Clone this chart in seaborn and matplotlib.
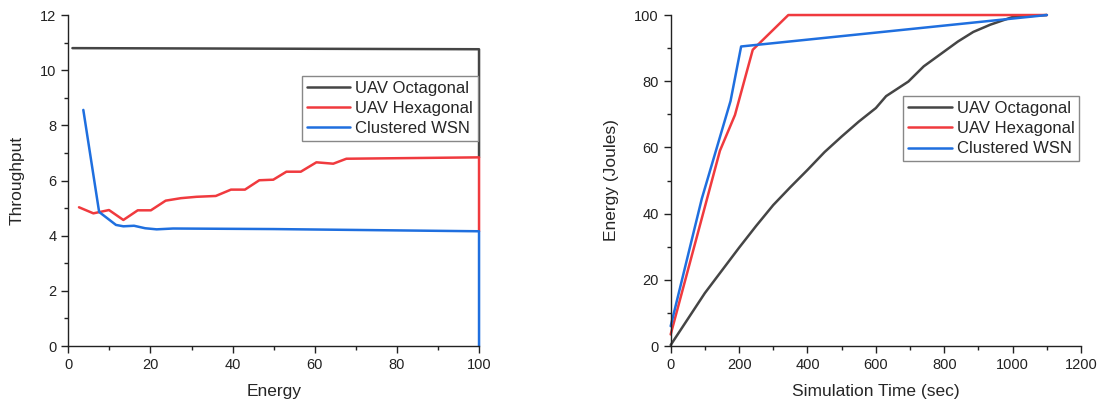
import numpy as np
import pandas as pd
import matplotlib
matplotlib.use("Agg")
import matplotlib.pyplot as plt
import seaborn as sns
from matplotlib.ticker import MultipleLocator

# ---- data: left panel (Throughput vs Energy) ----
oct_x = [1.0, 25, 50, 75, 100, 100]
oct_y = [10.80, 10.79, 10.78, 10.77, 10.76, 6.84]
hex_x = [2.6, 6.1, 9.9, 13.4, 16.9, 20.1, 23.7, 27.4, 31.2, 35.9, 39.6, 43.0,
         46.5, 49.9, 53.1, 56.6, 60.4, 64.5, 67.7, 100, 100]
hex_y = [5.03, 4.81, 4.93, 4.57, 4.92, 4.92, 5.27, 5.36, 5.41, 5.44, 5.67, 5.67,
         6.01, 6.03, 6.32, 6.32, 6.66, 6.61, 6.79, 6.84, 4.16]
wsn_x = [3.65, 7.5, 11.6, 13.4, 16.0, 18.7, 21.5, 25.5, 50, 75, 100, 100]
wsn_y = [8.56, 4.86, 4.39, 4.34, 4.36, 4.27, 4.23, 4.26, 4.24, 4.20, 4.16, 0.0]

# ---- data: right panel (Energy vs Simulation time) ----
oct_t = [0, 100, 200, 250, 300, 350, 400, 450, 500, 550, 600, 630, 695, 740,
         800, 840, 885, 935, 1000, 1100]
oct_e = [0.3, 16, 29.7, 36.3, 42.6, 48, 53.2, 58.6, 63.3, 67.8, 71.9, 75.5,
         79.9, 84.5, 89, 92, 94.9, 97.1, 99.4, 100]
hex_t = [0, 144, 188, 240, 344, 1100]
hex_e = [3.5, 59, 69.8, 89.5, 100, 100]
wsn_t = [0, 91, 175, 206, 1100]
wsn_e = [6.0, 44.5, 74, 90.5, 100]

labels = ["UAV Octagonal", "UAV Hexagonal", "Clustered WSN"]
colors = ["#454545", "#F03A3E", "#1F6FDF"]

sns.set_style("ticks")
plt.rcParams["font.family"] = ["Liberation Sans", "DejaVu Sans"]

fig = plt.figure(figsize=(11.02, 4.03), dpi=100)
ax1 = fig.add_axes([0.062, 0.1414, 0.3727, 0.8213])
ax2 = fig.add_axes([0.6086, 0.1414, 0.3724, 0.8213])

def draw(ax, xs, ys):
    for x, y, lab, c in zip(xs, ys, labels, colors):
        df = pd.DataFrame({"x": x, "y": y})
        sns.lineplot(data=df, x="x", y="y", ax=ax, estimator=None, sort=False,
                     color=c, linewidth=1.8, label=lab, clip_on=False)

draw(ax1, [oct_x, hex_x, wsn_x], [oct_y, hex_y, wsn_y])
draw(ax2, [oct_t, hex_t, wsn_t], [oct_e, hex_e, wsn_e])

ax1.set_xlim(0, 100)
ax1.set_ylim(0, 12)
ax1.xaxis.set_major_locator(MultipleLocator(20))
ax1.xaxis.set_minor_locator(MultipleLocator(10))
ax1.yaxis.set_major_locator(MultipleLocator(2))
ax1.yaxis.set_minor_locator(MultipleLocator(1))
ax1.set_xlabel("Energy", fontsize=12.5, labelpad=9)
ax1.set_ylabel("Throughput", fontsize=12.5, labelpad=11)

ax2.set_xlim(0, 1200)
ax2.set_ylim(0, 100)
ax2.xaxis.set_major_locator(MultipleLocator(200))
ax2.xaxis.set_minor_locator(MultipleLocator(100))
ax2.yaxis.set_major_locator(MultipleLocator(20))
ax2.yaxis.set_minor_locator(MultipleLocator(10))
ax2.set_xlabel("Simulation Time (sec)", fontsize=12.5, labelpad=9)
ax2.set_ylabel("Energy (Joules)", fontsize=12.5, labelpad=11)

for ax, anchor in [(ax1, (0.568, 0.817)), (ax2, (0.567, 0.756))]:
    sns.despine(ax=ax)
    for s in ["left", "bottom"]:
        ax.spines[s].set_linewidth(1.0)
        ax.spines[s].set_color("#222222")
    ax.tick_params(which="major", direction="out", length=5, width=1.0,
                   labelsize=10.5, colors="#222222")
    ax.tick_params(which="minor", direction="out", length=3, width=1.0,
                   colors="#222222")
    leg = ax.legend(loc="upper left", bbox_to_anchor=anchor, borderaxespad=0,
                    fontsize=12, frameon=True, fancybox=False, framealpha=1,
                    edgecolor="#888888", labelspacing=0.32, handlelength=2.6,
                    handletextpad=0.3, borderpad=0.3)
    leg.get_frame().set_linewidth(1.0)

fig.savefig("out.png", dpi=100)
